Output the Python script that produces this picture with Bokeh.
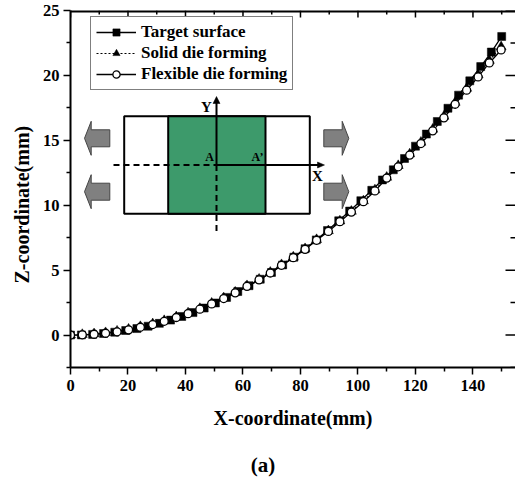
from bokeh.plotting import figure
from bokeh.embed import file_html
from bokeh.resources import INLINE
from bokeh.core.properties import value
from bokeh.models import (Legend, LegendItem, LinearAxis, Range1d, FixedTicker, Title)

# ---- data ----
target_x = [150,146.4,142.7,138.9,135,131.3,127.6,123.8,120,116.2,112.3,108.5,104.8,101,97.1,93.3,89.4,85.5,81.6,77.7,73.8,69.9,66,62.1,58.2,54.3,50.4,46.5,42.6,38.7,34.8,30.9,27,23.1,19.2,15.4,11.5,7.7,3.8,0]
target_z = [23.0,21.8,20.68,19.58,18.48,17.47,16.45,15.48,14.55,13.6,12.73,11.95,11.15,10.35,9.55,8.8,8.05,7.33,6.65,6.0,5.4,4.82,4.3,3.8,3.35,2.9,2.47,2.08,1.73,1.43,1.15,0.9,0.68,0.5,0.35,0.22,0.12,0.05,0.01,0]
flex_x = [149.8,145.7,141.8,137.8,133.8,129.9,126,121.9,118,114,110,105.9,101.9,97.7,93.7,89.7,85.6,81.6,77.5,73.4,69.5,65.6,61.4,57.3,53.3,49.1,45,40.9,36.8,32.6,28.6,24.3,20.2,16.2,12.2,8.2,4.1,0]
flex_z = [21.96,20.96,19.88,18.86,17.78,16.73,15.73,14.75,13.86,12.96,12.09,11.1,10.27,9.47,8.73,7.98,7.3,6.6,5.96,5.37,4.78,4.25,3.75,3.25,2.81,2.4,1.99,1.65,1.35,1.06,0.81,0.6,0.4,0.25,0.14,0.06,0.02,0]
solid_x = flex_x
solid_z = [22.2,21.15,20.05,19.0,17.92,16.85,15.85,14.85,13.95,13.05,12.15,11.18,10.33,9.53,8.78,8.03,7.35,6.65,6.01,5.42,4.83,4.3,3.8,3.3,2.86,2.45,2.04,1.7,1.4,1.11,0.86,0.65,0.45,0.3,0.18,0.09,0.04,0]
series_names = ["Target surface", "Solid die forming", "Flexible die forming"]
x_major = [0,20,40,60,80,100,120,140]
x_minor = [10,30,50,70,90,110,130,150]
y_major = [0,5,10,15,20,25]
y_minor = [2.5,7.5,12.5,17.5,22.5,-2.5]
x_label = "X-coordinate(mm)"
y_label = "Z-coordinate(mm)"
caption = "(a)"

FONT = "Liberation Serif"
TICK = "black"
W, H = 515, 479
LEFT, TOP, BOTTOM, RIGHT = 70, 10, 112, 0
X0, X1, Y0, Y1 = 0, 154.8, -2.5, 25
FW, FH = W-LEFT-RIGHT, H-TOP-BOTTOM

def dx(px):  # picture pixel to x value (inset sketch only)
    return (px-LEFT)/FW*(X1-X0)+X0
def dy(py):
    return Y1-(py-TOP)/FH*(Y1-Y0)

p = figure(width=W, height=H, output_backend="svg", toolbar_location=None,
           x_range=Range1d(X0, X1), y_range=Range1d(Y0, Y1),
           min_border_left=LEFT, min_border_top=TOP, min_border_bottom=BOTTOM, min_border_right=RIGHT)
p.grid.visible = False
p.outline_line_color = None

xa = p.xaxis[0]; ya = p.yaxis[0]
xa.ticker = FixedTicker(ticks=x_major, minor_ticks=x_minor)
ya.ticker = FixedTicker(ticks=y_major, minor_ticks=y_minor)
for ax in (xa, ya):
    ax.axis_line_width = 2; ax.axis_line_color = "black"
    ax.major_tick_line_width = 1.5; ax.minor_tick_line_width = 1.5
    ax.major_tick_line_color = TICK; ax.minor_tick_line_color = TICK
    ax.major_tick_in = 0; ax.major_tick_out = 7
    ax.minor_tick_in = 0; ax.minor_tick_out = 4
    ax.major_label_text_font = FONT; ax.major_label_text_font_style = "bold"
    ax.major_label_text_font_size = "16.5px"; ax.major_label_text_color = "black"
xa.axis_label = x_label
xa.axis_label_text_font = FONT; xa.axis_label_text_font_style = "bold"
xa.axis_label_text_font_size = "20px"; xa.axis_label_text_color = "black"
xa.major_label_standoff = 5; xa.axis_label_standoff = 13
ya.major_label_standoff = 4

# mirrored inward ticks on the top and right edges, and the top edge line
tx = X1/FW  # value per pixel
ty = (Y1-Y0)/FH
p.segment(x_major, [Y1]*len(x_major), x_major, [Y1-7*ty]*len(x_major), line_color=TICK, line_width=1.5)
p.segment(x_minor, [Y1]*len(x_minor), x_minor, [Y1-4*ty]*len(x_minor), line_color=TICK, line_width=1.5)
p.segment([X1]*len(y_major), y_major, [X1-10*tx]*len(y_major), y_major, line_color=TICK, line_width=1.5)
p.segment([X1]*len(y_minor), y_minor, [X1-5*tx]*len(y_minor), y_minor, line_color=TICK, line_width=1.5)
p.segment([X0], [Y1], [X1], [Y1], line_color=TICK, line_width=4)

# ---- inset sketch ----
ox0, ox1, oy0, oy1 = 123.7, 309.3, 115.7, 213.3
gx0, gx1 = 167.7, 265
p.quad(left=[dx(ox0)], right=[dx(ox1)], top=[dy(oy0)], bottom=[dy(oy1)], fill_color="white", line_color="black", line_width=2)
p.quad(left=[dx(gx0)], right=[dx(gx1)], top=[dy(oy0)], bottom=[dy(oy1)], fill_color="#3d9a6b", line_color="black", line_width=2)

def arrow(tip, base, neck, ymid, body, head):
    return ([dx(tip), dx(neck), dx(neck), dx(base), dx(base), dx(neck), dx(neck)],
            [dy(ymid), dy(ymid-head), dy(ymid-body), dy(ymid-body), dy(ymid+body), dy(ymid+body), dy(ymid+head)])
for tip, base, neck, ymid in ((84,109.3,90.7,137.8),(84,109.3,90.7,191.2),(348.3,323.3,341.7,137.8),(348.3,323.3,341.7,191.2)):
    xs, ys = arrow(tip, base, neck, ymid, 8.5, 17)
    p.patch(xs, ys, fill_color="#808080", line_color="#444444", line_width=1)

ax_x, ax_y = 216, 164.5
p.line([dx(ax_x), dx(ax_x)], [dy(ax_y), dy(101)], line_color="black", line_width=2)
p.line([dx(ax_x), dx(320)], [dy(ax_y), dy(ax_y)], line_color="black", line_width=2)
p.line([dx(ax_x), dx(ax_x)], [dy(ax_y), dy(232)], line_color="black", line_width=2, line_dash="6 4")
p.line([dx(113), dx(ax_x)], [dy(ax_y), dy(ax_y)], line_color="black", line_width=2, line_dash="6 4")
p.patch([dx(ax_x-3.5), dx(ax_x), dx(ax_x+3.5)], [dy(103), dy(96), dy(103)], fill_color="black", line_color="black", line_width=0.5)
p.patch([dx(317), dx(324), dx(317)], [dy(ax_y-3), dy(ax_y), dy(ax_y+3)], fill_color="black", line_color="black", line_width=0.5)

for txt, px, py, size in (("Y",206,106,15),("A",209,156,12),("A\u2019",257,156,12),("X",317,175,15)):
    p.text([dx(px)], [dy(py)], text=[txt], text_font=value(FONT), text_font_style="bold",
           text_font_size=f"{size}px", text_color="black", text_align="center", text_baseline="middle")

# ---- series ----
l1 = p.line(target_x, target_z, line_color="black", line_width=1.3)
m1 = p.scatter(target_x, target_z, marker="square", size=8, fill_color="black", line_color="black", line_width=0.5)
l2 = p.line(solid_x, solid_z, line_color="black", line_width=1.2, line_dash="2 2")
m2 = p.scatter(solid_x, solid_z, marker="triangle", size=10, fill_color="black", line_color="black", line_width=0.5)
l3 = p.line(flex_x, flex_z, line_color="black", line_width=1.3)
m3 = p.scatter(flex_x, flex_z, marker="circle", size=8, fill_color="white", line_color="black", line_width=1.3)

legend = Legend(items=[LegendItem(label=series_names[0], renderers=[l1, m1]),
                       LegendItem(label=series_names[1], renderers=[l2, m2]),
                       LegendItem(label=series_names[2], renderers=[l3, m3])],
                location=(20, 277), orientation="vertical",
                padding=5, margin=0, spacing=1, glyph_width=40, glyph_height=18, label_height=18,
                label_standoff=5, label_text_font=FONT, label_text_font_style="bold",
                label_text_font_size="17px", label_text_color="black",
                border_line_color="black", border_line_width=1.5, background_fill_color="white", background_fill_alpha=1)
p.add_layout(legend, "center")

p.add_layout(Title(text=y_label, align="left", offset=84, standoff=13, text_font=FONT, text_font_style="bold",
                   text_font_size="20px", text_color="black"), "left")

# the caption sits under the x label: a second, bare axis below carries it as its one label
CAPTION_AT = 67
cap = LinearAxis(ticker=FixedTicker(ticks=[CAPTION_AT], minor_ticks=[]), major_label_overrides={CAPTION_AT: caption})
cap.axis_line_color = None; cap.major_tick_line_color = None; cap.minor_tick_line_color = None
cap.major_tick_in = 0; cap.major_tick_out = 0; cap.minor_tick_in = 0; cap.minor_tick_out = 0
cap.major_label_standoff = 21
cap.major_label_text_font = FONT; cap.major_label_text_font_style = "bold"
cap.major_label_text_font_size = "21px"; cap.major_label_text_color = "black"
p.add_layout(cap, "below")

open("out.html", "w").write(file_html(p, INLINE))
